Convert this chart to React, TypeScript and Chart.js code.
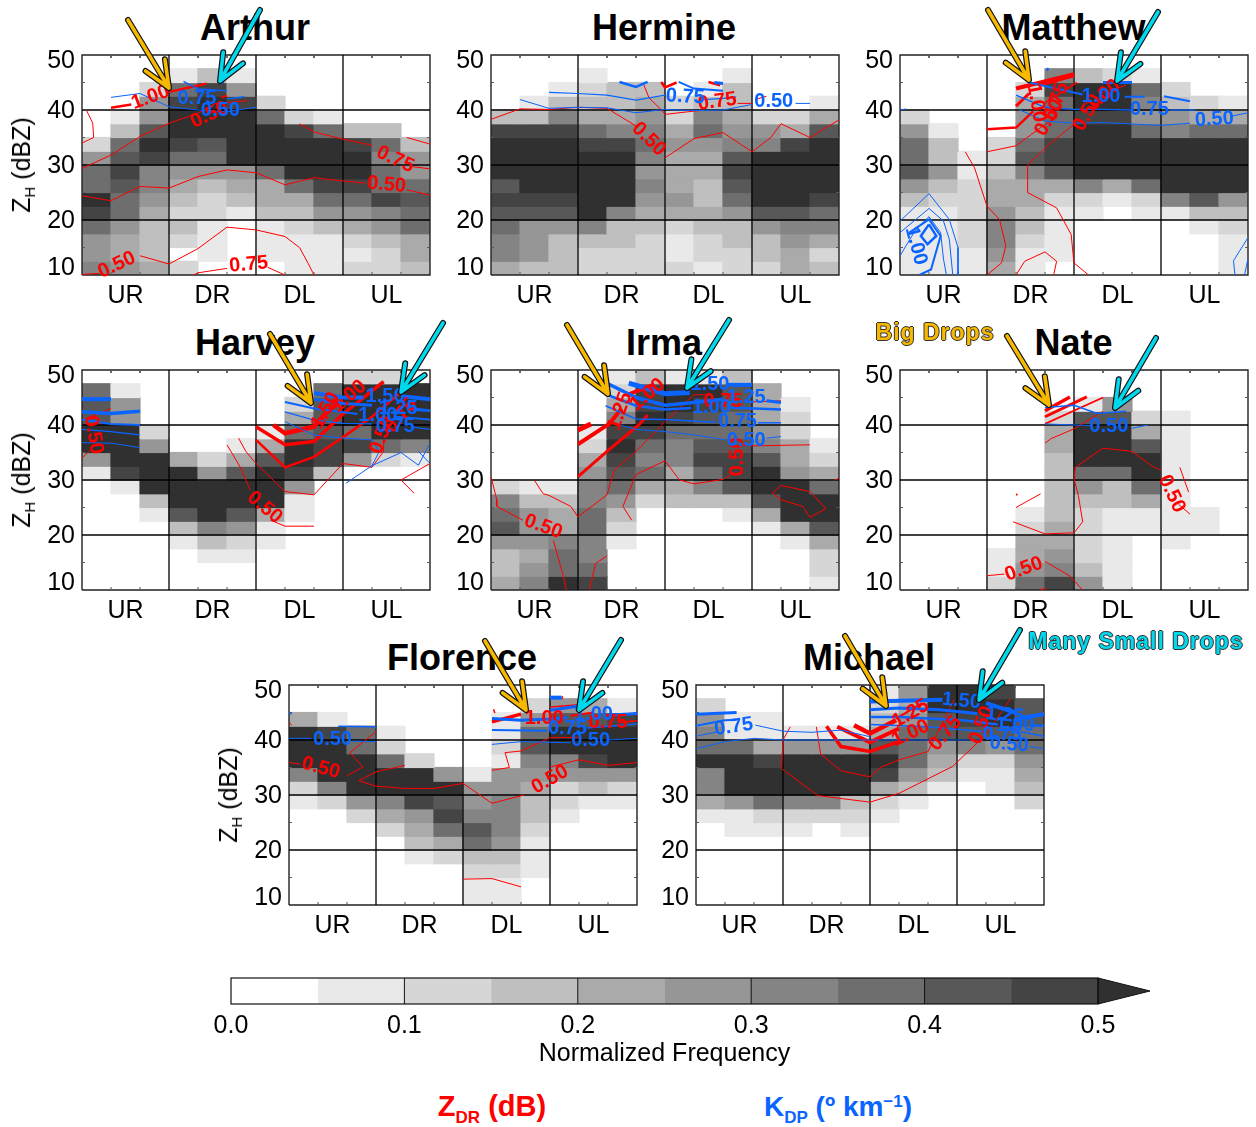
import React, { useEffect, useRef } from "react";
import { Chart, registerables } from "chart.js";
Chart.register(...registerables);

const sectors = ["UR", "DR", "DL", "UL"];
const yTicks = [11.6, 20, 30, 40, 49.1];
const grays = ["rgba(0,0,0,0)", "#e9e9e9", "#d6d6d6", "#bfbfbf", "#aaaaaa", "#969696", "#848484", "#6e6e6e", "#585858", "#444444", "#303030"];
const red = "#ff0000";
const blue = "#0a64ff";
const amber = "#f7b900";
const cyan = "#00d8ee";

type Seg = [number, number[]];
type Lab = [number, number, string, number];

const arthurGrid = [
  [0,0,0,0,0,0,0,0,0,0,0,0],[0,0,0,1,3,1,0,0,0,0,0,0],[0,0,2,7,9,5,0,0,0,0,0,0],[0,0,5,9,10,9,2,0,0,0,0,0],
  [0,1,5,10,10,10,7,2,1,0,0,0],[0,3,8,10,10,10,10,9,7,3,3,0],[2,7,10,9,8,10,10,10,10,9,7,3],[5,8,9,7,7,10,10,10,10,10,6,5],
  [7,9,6,5,5,5,7,10,10,10,7,5],[7,8,6,4,3,4,4,7,9,9,7,7],[10,7,5,3,2,3,4,4,7,7,9,8],[9,7,4,2,2,1,3,3,5,5,6,7],
  [7,5,3,3,1,0,1,2,3,4,5,7],[5,4,3,2,1,0,1,1,1,2,3,4],[5,4,3,0,1,0,1,1,1,1,2,4],[6,5,4,2,0,0,0,1,1,2,2,3],
];
const arthurRed: Seg[] = [
  [1,[0,29.4,1,31.8,2,35.2,3,37.6,4,39.4,4.6,41.2,5.7,41.7]],
  [2.5,[1,40.4,1.7,41]],[2.5,[3,43.3,4.3,44.8]],[2,[4.8,42.3,5,42.6]],
  [1,[7.5,37.5,8,36,9,34.7,10,33.6]],[1,[11.2,35,12,33.8]],[1,[11.4,29.7,12,29.3]],
  [1,[0.15,40,0.37,37.6,0.4,35,0,34]],
  [1,[0,24.4,1,23.5,2,26.1,3,25.8,4,27.9,5,29.1,6,28.6,7,26.4,8,27.7,9,27.1,9.8,26.7]],[1,[11.2,25.5,12,24.5]],
  [1,[0,10.1,0.6,10.3]],[1,[2,13.5,3,12,4,14.8,5,18.7,6,18.2,7,17,7.5,15,7.8,12.1,8,10]],
  [1,[3.85,10,4,10.4,5,11.2]],[1,[6.4,11.4,7,10]],
];
const arthurBlue: Seg[] = [
  [1,[1,42.3,2,43,3,40.6,4,40,5,39.7,6,40.5]],
  [1.5,[3.5,45.2,4,43.8,5,43.5]],[1.5,[5,42,5.6,42.4]],[2.5,[4.7,45.1,4.9,45]],
];
const arthurLabels: [Lab[], Lab[]] = [
  [[2.36,42.3,"1.00",-20],[4.4,39.1,"0.50",-25],[10.8,31,"0.75",25],[10.5,26.4,"0.50",5],[1.2,11.8,"0.50",-25],[5.75,11.9,"0.75",-5]],
  [[3.96,42.1,"0.75",0],[4.77,39.9,"0.50",0]],
];

const hermineGrid = [
  [0,0,0,0,0,0,0,0,0,0,0,0],[0,0,0,1,0,0,0,0,1,0,0,0],[0,0,1,2,3,3,0,1,3,0,0,0],[0,1,3,3,3,4,2,3,3,0,0,1],
  [3,3,6,4,4,5,2,6,4,2,2,4],[9,9,9,7,6,6,4,7,5,5,4,8],[10,10,10,9,9,7,5,5,6,6,9,10],[10,10,10,10,10,6,4,4,8,10,10,10],
  [10,10,10,10,10,5,4,4,9,10,10,10],[8,10,10,10,10,6,4,3,8,10,10,10],[9,9,9,10,10,5,5,3,7,10,10,9],[8,8,8,10,6,4,4,4,5,8,8,7],
  [7,5,5,6,3,3,2,3,3,5,6,6],[6,5,3,3,3,2,1,2,3,3,5,4],[6,5,3,2,2,2,1,2,2,3,4,2],[4,3,3,2,2,2,2,1,2,2,4,3],
];
const hermineRed: Seg[] = [
  [1,[0,38.3,1,40.2,2,40.1,3,40.5,4,40.3,5,37.1]],[1,[6,31.3,7,34.8,8,35.9,9,32.4,9.65,35,10,37.5,11,35,12,38.2]],
  [1,[5.26,44.7,5.45,42.2,5.9,39.9,6,39.2,7,39.8,7.35,40]],[1,[8.5,41.2,9,41.2]],[1,[9.1,41.9,9.5,42.5]],
  [2.5,[5.87,45.1,6,44.1,6.4,45]],[2.5,[7.5,45.1,7.9,44.5]],
];
const hermineBlue: Seg[] = [
  [1,[1,41.9,2,40.3,3,40.5,4,40.4,5,39.5,6,40.1,7,39.9,8,40,9,41]],[1,[10.5,41.2,11,41.2]],
  [1.2,[2,43.2,3,43,4,42.7,5,41.8,6,42.7]],[1.2,[7.35,41.9,8,42.1,8.45,42.4]],
  [2.5,[4.43,45.1,5,44.2,5.4,45.1]],[2,[6.47,45.1,7,43.9,8,43.5]],[3,[7.7,45,8,44.8]],
];
const hermineLabels: [Lab[], Lab[]] = [
  [[7.8,41.5,"0.75",-8],[5.44,34.7,"0.50",45]],
  [[6.7,42.4,"0.75",3],[9.75,41.5,"0.50",0]],
];

const matthewGrid = [
  [0,0,0,0,0,0,0,0,0,0,0,0],[0,0,0,0,0,6,3,2,1,0,0,0],[0,0,0,0,2,9,10,10,7,2,0,0],[0,0,0,0,4,7,10,10,6,3,2,1],
  [2,0,0,0,5,7,9,9,5,5,4,4],[5,1,0,0,5,7,10,10,7,6,7,7],[7,3,0,2,7,9,10,10,10,10,10,10],[7,3,1,2,8,9,10,10,10,10,10,10],
  [8,5,1,3,6,8,10,10,10,10,10,10],[5,3,2,4,4,4,6,4,7,10,10,10],[3,2,2,4,4,2,2,1,2,6,8,5],[1,1,2,5,3,1,1,0,1,1,3,3],
  [1,1,2,6,3,1,0,0,0,0,1,2],[1,1,2,6,2,1,0,0,0,0,0,1],[1,1,1,5,1,1,0,0,0,0,0,1],[1,1,1,4,1,0,0,0,0,0,0,1],
];
const matthewRed: Seg[] = [
  [1,[2.25,32.4,2.57,29.5,3,22.5,3.43,20.1,3.65,15.3,3.5,12.2,3,10]],
  [1,[3,32.4,4,33.5,5,37.4,5.4,38.6]],
  [1,[6.5,10,6,12.2,5.9,17.4,5.4,22.2,4.4,25,4.4,30,5.15,33.8,6,37.4,6.2,38]],[1,[6.9,43,7.8,44.5]],
  [1,[4,10,4.3,12.5,5,14.2,5.4,12.5,5.3,10]],
  [2.5,[3,36.5,4,36.8,4.3,38.3,4.6,39.8]],[3,[4,40.7,4.45,43]],[4,[4,43.9,6,46.5]],[3,[4.8,44.5,6,46.2]],[1.5,[5,41.3,6.1,45]],
];
const matthewBlue: Seg[] = [
  [1,[0,19.8,1,24.8,1.7,20.1,2,15,2,10]],[1,[0,17.7,1,22.1,1.5,19.8,1.7,16.5,1.82,10]],
  [1,[0,13.5,0.55,18.3,1,20.6,1.4,17.7,1.5,12.9,1.6,10]],
  [2.5,[1,19.2,1.25,17.1,0.95,15.6,0.72,17.1,1,19.2]],[2,[0.32,17.7,1,20.1,1.4,17.1,1.07,11,0.67,10]],
  [1,[12,16.8,11.5,12.6,11.55,10]],[1,[12,13,11.88,10]],
  [3,[5.05,47.5,5.12,47.3]],
  [2,[4.45,45,6.3,42.8]],[3,[7,45,8,45]],[2,[7.75,42.4,8.43,42.4]],[2,[9.1,42.5,10,41.6]],
  [1.3,[4,42.7,5,40.5,6,40.1,7,40.1,8,40]],[1.3,[9.3,40,10.2,40]],
  [1,[4.1,40.1,5,38,6,37.6,7,37.7,9,37.2,10,37.6]],[1,[11.45,38.9,12,39.5]],[1,[0,40,0.2,40.2]],
];
const matthewLabels: [Lab[], Lab[]] = [
  [[6.47,39.5,"0.50",-60],[5.4,41.6,"0.75",-70],[4.7,41.3,"1.00",80],[5.15,38.6,"0.50",-60],[7,42.6,"1.00",-40]],
  [[0.55,15.3,"1.00",75],[6.93,42.5,"1.00",0],[8.6,40.1,"0.75",0],[10.84,38.3,"0.50",-3]],
];

const harveyGrid = [
  [0,0,0,0,0,0,0,0,0,2,2,0],[7,1,0,0,0,0,0,0,7,10,10,10],[8,5,0,0,0,0,0,2,8,10,10,10],[8,5,0,0,0,0,0,4,8,10,10,10],
  [10,10,2,0,0,0,1,7,8,7,10,10],[10,10,5,0,0,1,4,10,9,9,7,6],[5,10,10,4,2,4,8,10,9,5,2,1],[1,9,10,10,5,8,10,9,3,0,0,0],
  [0,1,10,10,10,10,10,5,0,0,0,0],[0,0,3,10,10,10,10,1,0,0,0,0],[0,0,1,8,10,8,4,1,0,0,0,0],[0,0,0,3,6,5,1,0,0,0,0,0],
  [0,0,0,1,3,2,1,0,0,0,0,0],[0,0,0,0,1,1,0,0,0,0,0,0],[0,0,0,0,0,0,0,0,0,0,0,0],[0,0,0,0,0,0,0,0,0,0,0,0],
];
const harveyRed: Seg[] = [
  [4.5,[6.6,40,7,38.5,8,39.7,8.5,42.7,9,44.5]],[3.5,[6,39.7,7,36.4,8,37,9,42,10.4,47.9]],[2.5,[6,37.3,7,32.3,8,34.2,9,37.8,10,41.5,11,46]],
  [1,[5.4,37.6,5.65,35.2,6,33,7,27.9,8,27.3,9,33,10,32.3,10.4,35.2,10.4,37.3]],
  [1,[5,36.4,5.45,32.4,5.8,28.2]],[1,[6.5,22.7,7,21.6,8,21.6]],
  [1,[11.45,27.6,11,30,12,33]],[1,[0,34,0.3,35.5]],[1,[0,40.9,1,43]],
];
const harveyBlue: Seg[] = [
  [4,[0,44.7,1,44.7]],[4,[8,45.8,9,45,9.7,45]],[4,[11.1,45.2,12,44.7]],
  [3.5,[0,42.4,1,42.1,2,42.5]],[3,[8,44.7,9,43.9,10,43.6]],[3,[11.2,43,12,42.6]],
  [2,[0,41,1,40.2,2,40]],[2,[7,44.2,8,43,9.5,42]],[2,[10.8,41.5,12,41]],
  [1.2,[0,39.2,1,38.8,2,38.2]],[1.2,[7,42.4,8,40.9,9,40.3,10,40.2]],[1.2,[11.4,39.6,12,39.2]],
  [1,[0,36.8,1,36.7,2,35.9]],[1,[7,40.6,8,38.2,9,37.6,10,37.3,10.25,35.2,10,32.6,11,35,11.6,32.7,12,36.7]],[1,[9.1,29.4,10,32.6]],[1,[11.6,35.2,12,33]],
];
const harveyLabels: [Lab[], Lab[]] = [
  [[6.3,25,"0.50",40],[0.4,38.2,"0.50",80],[10.35,38.2,"0.50",-70],[9.2,45.2,"1.00",-40],[8.4,42.6,"1.50",-60],[11,41.7,"0.75",-50]],
  [[10.45,45.2,"1.50",0],[10.9,43,"1.25",0],[10.2,41.8,"1.00",0],[10.8,39.8,"0.75",0]],
];

const irmaGrid = [
  [0,0,0,0,1,3,1,1,3,0,0,0],[0,0,0,0,2,9,10,10,8,4,0,0],[0,0,0,0,4,9,10,9,8,4,1,0],[0,0,0,0,6,10,9,8,7,4,2,0],
  [0,0,0,1,9,9,7,7,7,5,2,0],[0,0,0,2,10,7,6,8,8,6,4,1],[0,0,0,4,9,6,6,9,9,8,4,2],[0,0,0,5,8,7,4,7,9,10,5,4],
  [2,1,1,6,7,4,4,6,8,10,10,7],[6,3,3,6,5,2,3,3,3,8,10,10],[7,5,4,7,3,0,0,0,1,4,10,10],[8,5,4,7,2,0,0,0,0,1,4,8],
  [5,5,6,6,1,0,0,0,0,0,1,4],[3,4,7,6,0,0,0,0,0,0,0,2],[3,5,7,7,0,0,0,0,0,0,0,2],[4,6,10,9,0,0,0,0,0,0,0,1],
];
const irmaRed: Seg[] = [
  [5,[3,39.1,3.45,40.2]],[4,[3,36.5,4.1,40.3,4.5,43]],[3,[3,30.6,4,35.2,5.15,40.3,5.4,41.8]],[4,[4.7,45.5,5.6,47.3]],
  [1,[3,23.3,4,27.3,4.25,31.8,5,35.2,6,40.6,7,45.5,7.6,45.5]],
  [1,[4.85,22.7,4.55,25.2,5,31,6,33.5,6.5,30,7,29.3,8,30.1,8.35,31.2]],[1,[8.6,36.4,9,36.2,11,36.4]],
  [1,[1.5,29.9,1.8,27.5,2,27.2,2.75,25.2,3,23.3]],
  [1,[0,30.6,0.2,26.4,0.2,25.2,1.1,22.7]],[1,[2.15,19,2.5,12.4,2.6,10]],[1,[3.4,10,3.6,14.8,4,16.2]],
  [1,[9.7,27.6,10,29,11,27.9,11.55,24.8,11,23.2,10.75,25.2,10,26.4,9.7,27.6]],[1,[11.85,30,12,30.3]],
  [1,[9,44.2,10,44.4]],
];
const irmaBlue: Seg[] = [
  [5,[4.75,47.6,6,45.7,6.85,45.9]],[4,[8.15,47.3,9,47.3]],
  [3.5,[4,47.6,5,45,6,43.6,7,44.1,8,44.7]],[3,[9.5,44.4,10,44.1]],
  [2.5,[4,45.5,5,43.5,6,42.8,6.9,43.1]],[2.5,[8.2,43.2,10,42.8]],
  [1.5,[3.95,43.5,5,41.1,6,41,7.75,40.5]],[1.5,[9.2,40.4,10,40.4]],
  [1,[4.05,40.6,5,39.2,6,38.8,7,38.2,8.1,37.3]],[1,[9.5,37.6,10,37.9]],
];
const irmaLabels: [Lab[], Lab[]] = [
  [[8.5,34.2,"0.50",-90],[1.8,21.5,"0.50",20],[4.45,42.5,"1.25",-70],[8,44.3,"0.75",0],[5.4,45.5,"1.00",-40]],
  [[7.55,47.3,"1.50",0],[8.8,45,"1.25",0],[7.6,43.2,"1.00",0],[8.5,40.6,"0.75",0],[8.8,37.2,"0.50",0]],
];

const nateGrid = [
  [0,0,0,0,0,0,0,0,0,0,0,0],[0,0,0,0,0,0,0,0,0,0,0,0],[0,0,0,0,0,0,1,5,0,0,0,0],[0,0,0,0,0,2,8,8,2,1,0,0],
  [0,0,0,0,0,4,10,10,4,1,0,0],[0,0,0,0,0,4,10,10,8,1,0,0],[0,0,0,0,0,3,10,10,10,1,0,0],[0,0,0,0,0,3,7,7,10,1,0,0],
  [0,0,0,0,0,3,5,3,7,1,0,0],[0,0,0,0,0,3,3,3,4,1,0,0],[0,0,0,0,1,3,2,1,1,1,1,0],[0,0,0,0,2,4,2,1,1,1,1,0],
  [0,0,0,0,4,4,2,1,0,1,0,0],[0,0,0,1,4,5,2,1,0,0,0,0],[0,0,0,1,5,6,3,1,0,0,0,0],[0,0,0,2,7,9,5,1,0,0,0,0],
];
const nateRed: Seg[] = [
  [3.5,[5,42.6,5.86,45.1]],[3,[5,41.5,6.44,45.1]],[1.8,[5,40.2,7,45]],
  [1,[5,36.7,5.2,37.5,6,39.3,7,42.5]],
  [1,[6,30.2,6.05,32.3,7,35.8,8,35.2,8.7,32.5,9,31.8]],[1,[9.65,32.3,9.95,27.8]],[1,[9.6,25.6,10,23.8]],
  [1,[6,30.2,6.15,27.2,6.3,22.4,6,20.4,5,20.2,3.9,22.4]],
  [1,[4,25,4.85,27.5]],[2,[4,27.3,4.05,27.4]],
  [1,[3,12.6,3.6,12.9]],[1,[5,15.2,5.87,12.5,6.3,10]],[1.5,[4.85,10,5,10.3]],
];
const nateBlue: Seg[] = [
  [1,[5,40.2,6.55,39.9]],[1,[8,39.4,8.55,40]],[1.5,[5,43.2,6,43.6,6.8,42.1,7.8,42.5]],
];
const nateLabels: [Lab[], Lab[]] = [
  [[4.27,13.8,"0.50",-20],[9.37,27.5,"0.50",65]],
  [[7.2,39.7,"0.50",0]],
];

const florenceGrid = [
  [0,0,0,0,0,0,0,0,0,0,0,0],[0,0,0,0,0,0,0,0,2,5,4,1],[4,1,0,0,0,0,0,1,5,8,8,9],[10,9,7,1,0,0,0,1,7,10,10,10],
  [10,10,7,2,0,0,0,2,8,10,10,10],[10,10,10,7,2,0,0,1,6,6,9,10],[6,10,10,10,10,5,1,5,5,5,5,5],[2,6,10,10,10,10,5,5,4,2,3,2],
  [1,2,5,6,9,8,5,6,3,2,1,1],[0,0,2,4,5,9,6,6,3,1,0,0],[0,0,0,2,4,7,8,6,2,0,0,0],[0,0,0,0,3,4,7,5,1,0,0,0],
  [0,0,0,0,1,2,3,3,1,0,0,0],[0,0,0,0,0,0,2,2,1,0,0,0],[0,0,0,0,0,0,1,1,0,0,0,0],[0,0,0,0,0,0,1,1,0,0,0,0],
];
const florenceRed: Seg[] = [
  [1,[0,35.9,0.4,35.6]],[1,[2,33.5,2.55,35.1,2.1,37.7,3,41.5]],[1,[0,43.2,0.1,42.7]],
  [1,[2.4,32.6,3,34.2,4,35.4]],[1,[2.4,32.6,3,31.6,4,31.2,5,31.2,6,32.1,7,28.5,8.1,30]],
  [1,[7,34.5,7.6,35,7.45,37.7,8,38,9,40.4,10,40.5]],[1,[9,35.1,10,36.4,11,35.4,12,35.9]],
  [1,[6,14.7,7,14.8,8,13.3]],
  [3.5,[7,43.3,8,44.7]],[4,[7.05,45.2,7.1,45.3]],[1.5,[9,46,10,46.4]],[2,[9.7,44.4,10.5,45]],[1.5,[11.35,43.2,12,43.5]],[3,[9.4,47.7,9.45,47.7]],
];
const florenceBlue: Seg[] = [
  [1,[0,40.3,0.77,40.3]],[1,[2.2,39.8,3,39.7]],[1.5,[1.7,42.5,3,42.4]],[1.5,[0,44.8,0.1,44.8]],
  [3,[7,43.9,8,43.6,9,43.8,9.6,44.1]],[3,[11,44.5,12,44.8]],
  [2,[7,41.8,8.9,41.7]],[1,[7,39.2,8,39.7,9.7,39.5]],[1,[11,40,12,40.3]],[1.5,[10.25,42.2,12,42.9]],
  [4,[9,47.7,9.4,47.7]],[3,[9,45.4,10,46.2]],
];
const florenceLabels: [Lab[], Lab[]] = [
  [[1.1,34.9,"0.50",15],[8.8,44,"1.00",0],[11,43.2,"0.75",0],[9,32.8,"0.50",-30]],
  [[1.5,40.1,"0.50",0],[9.6,42.1,"0.75",0],[10.4,39.9,"0.50",0],[10.5,44.7,"1.00",0]],
];

const michaelGrid = [
  [0,0,0,0,0,0,1,5,10,10,9,0],[2,0,0,0,0,0,2,4,10,10,10,8],[5,1,1,0,0,0,3,5,8,9,10,8],[6,1,1,1,1,1,4,7,8,8,8,7],
  [7,7,4,5,5,5,8,7,5,6,5,7],[10,10,9,10,10,10,10,7,4,2,2,5],[6,10,10,10,10,10,9,5,3,1,1,4],[6,10,10,10,10,10,4,3,1,0,1,3],
  [4,5,7,6,6,3,2,1,0,0,0,2],[1,1,2,2,2,2,1,0,0,0,0,0],[0,1,1,1,0,1,0,0,0,0,0,0],[0,0,0,0,0,0,0,0,0,0,0,0],
  [0,0,0,0,0,0,0,0,0,0,0,0],[0,0,0,0,0,0,0,0,0,0,0,0],[0,0,0,0,0,0,0,0,0,0,0,0],[0,0,0,0,0,0,0,0,0,0,0,0],
];
const michaelRed: Seg[] = [
  [4.5,[5.45,42.7,6,41.2,6.9,43.6]],[4,[4.87,42.4,6,39.6,7,42.1]],[3.5,[4.5,42.5,5,38.8,6,37.9,7,39.7]],
  [1,[4.15,42.4,4.3,37.4,5,34.4,6,33.3,6.35,35,7,36.4,8,37.9,8.9,47.3]],
  [1,[3.25,42.4,3,40,2.95,34.8,4.2,29.9,6,28.7,7,30.3,8.85,35.2,10,41,10.3,43.3,10.85,47.5]],
  [2,[6.9,43.9,7.8,46.7]],
];
const michaelBlue: Seg[] = [
  [3,[0,44.7,1.4,45]],[2,[0,42.6,1,43.6,1.4,43.7]],[1,[0,40.7,0.75,41.5]],[1,[2.05,42.7,3,41.6,4,41.4,5,41.8,6,40.6]],
  [1,[0,38.4,1,39.7,2,40.3,3,40,4,40,6,40,9.9,40]],[1,[11.5,38.8,12,38.4]],
  [4,[6,47,8.5,47.3]],[4,[10,46.7,11,45]],[4,[11.1,43.9,12,44.7]],
  [3,[6,45.5,7,45.8,8.4,45.5,9.7,44.8]],
  [2.5,[6,44.2,7,44.2,8,43.9,9.2,43.6,10.4,42.8]],[2.5,[11.5,42.7,12,42.6]],
  [1.5,[6,42.8,8,42.4,10,41.5]],[1.5,[11.2,41.5,12,40.7]],
];
const michaelLabels: [Lab[], Lab[]] = [
  [[7.4,41.2,"1.00",-25],[7.4,44.8,"1.25",-30],[8.6,41.2,"0.75",-50],[9.85,42.7,"0.50",-70]],
  [[1.3,42.4,"0.75",-8],[9.15,47.1,"1.50",5],[10.65,44.5,"1.25",5],[11,42.7,"1.00",0],[10.55,41,"0.75",0],[10.8,39.2,"0.50",5]],
];

const barLevels = [0, 0.05, 0.1, 0.15, 0.2, 0.25, 0.3, 0.35, 0.4, 0.45, 0.5];
const barColors = ["#ffffff", "#e9e9e9", "#d6d6d6", "#bfbfbf", "#aaaaaa", "#969696", "#848484", "#6e6e6e", "#585858", "#444444"];
const barTicks = [0, 0.1, 0.2, 0.3, 0.4, 0.5];

const panels = [
  { name: "Arthur", x: 81.5, y: 55, grid: arthurGrid, r: arthurRed, b: arthurBlue, labels: arthurLabels, axis: true },
  { name: "Hermine", x: 490.5, y: 55, grid: hermineGrid, r: hermineRed, b: hermineBlue, labels: hermineLabels, axis: false },
  { name: "Matthew", x: 900, y: 55, grid: matthewGrid, r: matthewRed, b: matthewBlue, labels: matthewLabels, axis: false },
  { name: "Harvey", x: 81.5, y: 370, grid: harveyGrid, r: harveyRed, b: harveyBlue, labels: harveyLabels, axis: true },
  { name: "Irma", x: 490.5, y: 370, grid: irmaGrid, r: irmaRed, b: irmaBlue, labels: irmaLabels, axis: false },
  { name: "Nate", x: 900, y: 370, grid: nateGrid, r: nateRed, b: nateBlue, labels: nateLabels, axis: false },
  { name: "Florence", x: 288.5, y: 685, grid: florenceGrid, r: florenceRed, b: florenceBlue, labels: florenceLabels, axis: true },
  { name: "Michael", x: 695.5, y: 685, grid: michaelGrid, r: michaelRed, b: michaelBlue, labels: michaelLabels, axis: false },
];

const yellowArrows = [[128,20,169,88],[988,10,1029,80],[270,334,311,403],[567,325,608,394],[1007,336,1049,405],[485,641,526,710],[845,636,886,706]];
const cyanArrows = [[260,10,220,81],[1158,12,1117,81],[443,323,401,392],[729,320,687,388],[1156,338,1115,408],[621,640,579,710],[1020,630,979,700]];

const FONT = "'Liberation Sans', Arial, sans-serif";
const toPts = (p: number[]) => {
  const o: { x: number; y: number }[] = [];
  for (let i = 0; i < p.length; i += 2) o.push({ x: p[i], y: p[i + 1] });
  return o;
};
const lineDs = (pts: any[], color: string, w: number, order: number, clip: any = true) => ({
  type: "line", data: pts, borderColor: color, borderWidth: w, pointRadius: 0, tension: 0, order, fill: false,
  spanGaps: false, parsing: { xAxisKey: "x", yAxisKey: "y" }, clip: clip === true ? undefined : clip,
  borderCapStyle: "butt", borderJoinStyle: "miter",
});

function panelConfig(p: typeof panels[number]) {
  const datasets: any[] = [];
  p.grid.forEach((row, r) => {
    const hi = 50 - r * 2.5;
    datasets.push({
      type: "bar", order: 5, grouped: false, barPercentage: 1, categoryPercentage: 1, inflateAmount: 0.6,
      data: row.map((_, c) => ({ x: c + 0.5, y: [hi - 2.5, hi] })),
      backgroundColor: row.map((v) => grays[v]), borderWidth: 0,
    });
  });
  [3, 6, 9].forEach((x) => datasets.push(lineDs([{ x, y: 10 }, { x, y: 50 }], "#000", 1.3, 4)));
  [20, 30, 40].forEach((y) => datasets.push(lineDs([{ x: 0, y }, { x: 12, y }], "#000", 1.3, 4)));
  const marks: any[] = [];
  const gap = { x: NaN, y: NaN };
  for (let x = 1; x < 12; x++) if (x % 3) marks.push({ x, y: 10 }, { x, y: 10.55 }, gap, { x, y: 50 }, { x, y: 49.45 }, gap);
  [15, 25, 35, 45].forEach((y) => marks.push({ x: 0, y }, { x: 0.1, y }, gap, { x: 12, y }, { x: 11.9, y }, gap));
  datasets.push(lineDs(marks, "#555", 1, 4));
  datasets.push(lineDs([{ x: 0, y: 10 }, { x: 12, y: 10 }, { x: 12, y: 50 }, { x: 0, y: 50 }, { x: 0, y: 10 }], "#222", 1.4, 4, false));
  p.r.forEach(([w, pts]) => datasets.push(lineDs(toPts(pts), red, w, 3)));
  p.b.forEach(([w, pts]) => datasets.push(lineDs(toPts(pts), blue, w, 2)));
  const labelPlugin = {
    id: "contourLabels",
    afterDatasetsDraw(chart: any) {
      const { ctx, scales, chartArea } = chart;
      ctx.save();
      ctx.beginPath();
      ctx.rect(chartArea.left - 4, chartArea.top - 4, chartArea.width + 8, chartArea.height + 8);
      ctx.clip();
      ctx.font = `bold 20px ${FONT}`;
      ctx.textAlign = "center";
      ctx.textBaseline = "middle";
      p.labels.forEach((set, i) => {
        ctx.fillStyle = i === 0 ? red : blue;
        set.forEach(([x, y, t, a]) => {
          ctx.save();
          ctx.translate(scales.x.getPixelForValue(x), scales.y.getPixelForValue(y));
          ctx.rotate((a * Math.PI) / 180);
          ctx.fillText(t, 0, 0);
          ctx.restore();
        });
      });
      ctx.restore();
    },
  };
  return {
    type: "bar",
    data: { datasets },
    plugins: [labelPlugin],
    options: {
      animation: false, responsive: false, maintainAspectRatio: false,
      layout: { padding: { top: 15, right: 7, left: 0, bottom: 0 } },
      plugins: { legend: { display: false }, tooltip: { enabled: false }, title: { display: false } },
      scales: {
        x: {
          type: "linear", min: 0, max: 12, offset: false, grid: { display: false, drawTicks: false }, border: { display: false },
          afterBuildTicks: (s: any) => { s.ticks = [1.5, 4.5, 7.5, 10.5].map((value) => ({ value })); },
          afterFit: (s: any) => { s.height = 36; s.paddingLeft = 0; s.paddingRight = 0; },
          ticks: { autoSkip: false, maxRotation: 0, padding: 6, color: "#000", font: { family: FONT, size: 25 }, callback: (v: number) => sectors[Math.floor(v / 3)] },
        },
        y: {
          type: "linear", min: 10, max: 50, grid: { display: false, drawTicks: false }, border: { display: false },
          afterBuildTicks: (s: any) => { s.ticks = yTicks.map((value) => ({ value })); },
          afterFit: (s: any) => { s.width = 60; s.paddingTop = 0; s.paddingBottom = 0; },
          ticks: { autoSkip: false, padding: 7, labelOffset: 1.5, color: "#000", font: { family: FONT, size: 25 }, callback: (v: number) => String(Math.round(v / 10) * 10) },
        },
      },
    },
  } as any;
}

function arrowPath(a: number[]) {
  const [tx, ty, hx, hy] = a;
  const ang = Math.atan2(ty - hy, tx - hx);
  const len = 29, sp = (23 * Math.PI) / 180;
  const tip = { x: hx, y: hy };
  return [
    { x: tx, y: ty }, tip,
    { x: hx + len * Math.cos(ang + sp), y: hy + len * Math.sin(ang + sp) }, tip,
    { x: hx + len * Math.cos(ang - sp), y: hy + len * Math.sin(ang - sp) },
  ];
}

function arrowConfig() {
  const datasets: any[] = [];
  const add = (a: number[], c: string) => {
    const pts = arrowPath(a);
    datasets.push({ ...lineDs(pts, "#111", 6, 2), borderCapStyle: "round", borderJoinStyle: "round" });
    datasets.push({ ...lineDs(pts, c, 3.6, 1), borderCapStyle: "round", borderJoinStyle: "round" });
  };
  yellowArrows.forEach((a) => add(a, amber));
  cyanArrows.forEach((a) => add(a, cyan));
  return {
    type: "line", data: { datasets },
    options: {
      animation: false, responsive: false, maintainAspectRatio: false, layout: { padding: 0 },
      plugins: { legend: { display: false }, tooltip: { enabled: false } },
      scales: { x: { type: "linear", display: false, min: 0, max: 1256 }, y: { type: "linear", display: false, min: 0, max: 1127, reverse: true } },
    },
  } as any;
}

function colorbarConfig() {
  const datasets: any[] = barColors.map((c, i) => ({
    type: "bar", label: String(barLevels[i]), data: [[barLevels[i], barLevels[i + 1]]], backgroundColor: c, borderWidth: 0,
    grouped: false, barPercentage: 1, categoryPercentage: 1, order: 2, inflateAmount: 0.3,
  }));
  const deco = {
    id: "barDeco",
    afterDatasetsDraw(chart: any) {
      const { ctx, scales, chartArea } = chart;
      const { top, bottom } = chartArea;
      const px = (v: number) => scales.x.getPixelForValue(v);
      ctx.save();
      ctx.fillStyle = "#303030";
      ctx.strokeStyle = "#111";
      ctx.lineWidth = 1;
      ctx.beginPath();
      ctx.moveTo(px(0.5), top);
      ctx.lineTo(px(0.53), (top + bottom) / 2);
      ctx.lineTo(px(0.5), bottom);
      ctx.closePath();
      ctx.fill();
      ctx.stroke();
      ctx.lineWidth = 1.2;
      ctx.strokeRect(px(0), top, px(0.5) - px(0), bottom - top);
      ctx.lineWidth = 1;
      barTicks.slice(1, -1).forEach((v) => {
        ctx.beginPath();
        ctx.moveTo(px(v), top);
        ctx.lineTo(px(v), bottom);
        ctx.stroke();
      });
      ctx.restore();
    },
  };
  return {
    type: "bar", data: { labels: ["f"], datasets }, plugins: [deco],
    options: {
      indexAxis: "y", animation: false, responsive: false, maintainAspectRatio: false,
      layout: { padding: { top: 1, left: 30, right: 11, bottom: 0 } },
      plugins: { legend: { display: false }, tooltip: { enabled: false } },
      scales: {
        x: {
          type: "linear", min: 0, max: 0.53, grid: { display: false, drawTicks: false }, border: { display: false },
          afterBuildTicks: (s: any) => { s.ticks = barTicks.map((value) => ({ value })); },
          afterFit: (s: any) => { s.height = 36; s.paddingLeft = 0; s.paddingRight = 0; },
          ticks: { autoSkip: false, maxRotation: 0, padding: 7, color: "#000", font: { family: FONT, size: 25 }, callback: (v: number) => v.toFixed(1) },
        },
        y: { type: "category", display: false, offset: true, grid: { display: false } },
      },
    },
  } as any;
}

function PanelChart({ p }: { p: typeof panels[number] }) {
  const ref = useRef<HTMLCanvasElement>(null);
  useEffect(() => {
    const c = new Chart(ref.current!, panelConfig(p));
    return () => c.destroy();
  }, [p]);
  return <canvas ref={ref} width={415} height={271} style={{ position: "absolute", left: p.x - 60, top: p.y - 15, display: "block" }} />;
}

function Overlay({ config, style, w, h }: any) {
  const ref = useRef<HTMLCanvasElement>(null);
  useEffect(() => {
    const c = new Chart(ref.current!, config());
    return () => c.destroy();
  }, [config]);
  return <canvas ref={ref} width={w} height={h} style={{ position: "absolute", display: "block", ...style }} />;
}

const center = (x: number, y: number): React.CSSProperties => ({
  position: "absolute", left: x, top: y, transform: "translate(-50%,-50%)", whiteSpace: "nowrap", fontFamily: FONT, lineHeight: 1,
});
const outline = "1px 0 #333, -1px 0 #333, 0 1px #333, 0 -1px #333";

export default function App() {
  return (
    <div style={{ position: "absolute", left: 0, top: 0, width: 1256, height: 1127, overflow: "hidden", background: "#fff" }}>
      {panels.map((p) => (
        <div key={p.name}>
          <div style={{ ...center(p.x + 173.5, p.y - 27), fontSize: 36, fontWeight: 700, color: "#000" }}>{p.name}</div>
          <PanelChart p={p} />
          {p.axis && (
            <div style={{ ...center(p.x - 59, p.y + 110), fontSize: 25, color: "#000", transform: "translate(-50%,-50%) rotate(-90deg)" }}>
              Z<sub style={{ fontSize: 15, verticalAlign: -5 }}>H</sub> (dBZ)
            </div>
          )}
        </div>
      ))}
      <Overlay config={colorbarConfig} w={960} h={63} style={{ left: 201, top: 977 }} />
      <div style={{ ...center(664.5, 1052), fontSize: 25, color: "#000" }}>Normalized Frequency</div>
      <div style={{ ...center(492, 1109), fontSize: 29, fontWeight: 700, color: red }}>
        Z<sub style={{ fontSize: 17, verticalAlign: -7 }}>DR</sub> (dB)
      </div>
      <div style={{ ...center(838, 1109), fontSize: 28, fontWeight: 700, color: blue }}>
        K<sub style={{ fontSize: 17, verticalAlign: -7 }}>DP</sub> (º km<sup style={{ fontSize: 17, verticalAlign: 9 }}>−1</sup>)
      </div>
      <Overlay config={arrowConfig} w={1256} h={1127} style={{ left: 0, top: 0, pointerEvents: "none" }} />
      <div style={{ ...center(935, 332), fontSize: 23, fontWeight: 700, letterSpacing: 1, color: amber, textShadow: outline }}>Big Drops</div>
      <div style={{ ...center(1136, 641), fontSize: 23, fontWeight: 700, letterSpacing: 1, color: cyan, textShadow: outline }}>Many Small Drops</div>
    </div>
  );
}
